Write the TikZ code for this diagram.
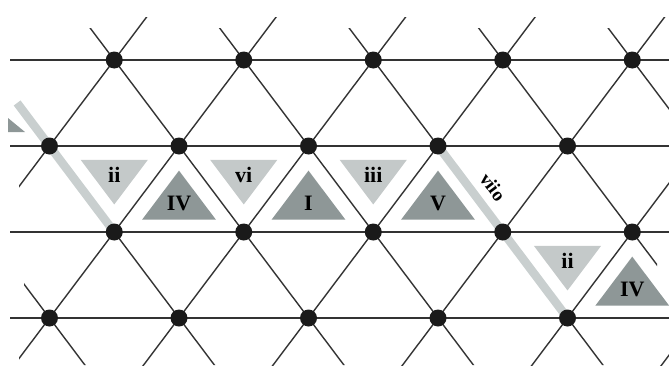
\documentclass[tikz,border=0pt]{standalone}
\usepackage{fontspec}
\setmainfont{Liberation Serif}
\usetikzlibrary{calc}
\definecolor{latticec}{HTML}{333333}
\definecolor{dotc}{HTML}{1A1A1A}
\definecolor{lightt}{HTML}{C4C9C9}
\definecolor{darkt}{HTML}{8E9797}
\definecolor{bandc}{HTML}{C9CFCF}
\newcommand\chordtri[7]{%
  \coordinate (#1) at (barycentric cs:#2=1,#3=1,#4=1);
  \fill[#6] ($(#1)!#5!(#2)$) -- ($(#1)!#5!(#3)$) -- ($(#1)!#5!(#4)$) -- cycle;
  \node[lab] (#1-l) at (#1) {#7};
}
\begin{document}
\begin{tikzpicture}[x=1pt,y=-1pt,
  gridline/.style={draw=latticec,line width=1.4pt},
  dotnode/.style={circle,fill=dotc,inner sep=0pt,minimum size=17pt},
  lab/.style={font=\fontsize{22}{22}\bfseries\selectfont,inner sep=0pt},
  band/.style={draw=bandc,line width=8.5pt},
  lighttri/.style={fill=lightt},
  darktri/.style={fill=darkt}
]
\useasboundingbox (0,0) rectangle (669,375);
% lattice points
\foreach \r/\y/\xo in {1/60/114.25,2/146/49.5,3/232/114.25,4/318/49.5}{
  \foreach \k in {0,...,5}{
    \coordinate (p\r k\k) at ({\xo+129.5*\k},\y);
  }
}
% "/" lines
\begin{scope}
  \clip (19,17) rectangle (669,365);
  \foreach \k in {-1,...,7}{
    \draw[gridline] ({114.25+129.5*\k+37.65},10) -- ({114.25+129.5*\k-233.4},370);
  }
\end{scope}
% "\" lines
\begin{scope}
  \clip (24,28) -- (669,28) -- (669,262) -- (657,262) -- (657,365) -- (24,365) -- cycle;
  \foreach \k in {-3,...,4}{
    \draw[gridline] ({114.25+129.5*\k-37.65},10) -- ({114.25+129.5*\k+233.4},370);
  }
\end{scope}
% horizontal lines
\foreach \r/\y in {1/60,2/146,3/232,4/318}{
  \coordinate (hl\r) at (10,\y);
  \coordinate (hr\r) at (669,\y);
  \draw[gridline] (hl\r) -- (hr\r);
}
% highlighted bands
\coordinate (b1s) at ($(p2k0)!-0.5!(p3k0)$);
\draw[band] (b1s) -- (p3k0);
\draw[band] (p2k3) -- (p4k4);
% small fragment at left
\fill[darktri] (8,118) -- (25,132) -- (8,132) -- cycle;
% chord triangles
\chordtri{tA}{p2k0}{p2k1}{p3k0}{0.52}{lighttri}{ii}
\chordtri{tB}{p3k0}{p3k1}{p2k1}{0.57}{darktri}{IV}
\chordtri{tC}{p2k1}{p2k2}{p3k1}{0.52}{lighttri}{vi}
\chordtri{tD}{p3k1}{p3k2}{p2k2}{0.57}{darktri}{I}
\chordtri{tE}{p2k2}{p2k3}{p3k2}{0.52}{lighttri}{iii}
\chordtri{tF}{p3k2}{p3k3}{p2k3}{0.57}{darktri}{V}
\chordtri{tG}{p3k3}{p3k4}{p4k4}{0.52}{lighttri}{ii}
\chordtri{tH}{p4k4}{p4k5}{p3k4}{0.57}{darktri}{IV}
% vii label
\node[font=\fontsize{19}{19}\bfseries\selectfont,inner sep=0pt,rotate=-53] (vii) at (493,187) {viio};
% dots
\foreach \r in {1,...,4}{
  \foreach \k in {0,...,4}{
    \node[dotnode] (d\r k\k) at (p\r k\k) {};
  }
}
\end{tikzpicture}
\end{document}
